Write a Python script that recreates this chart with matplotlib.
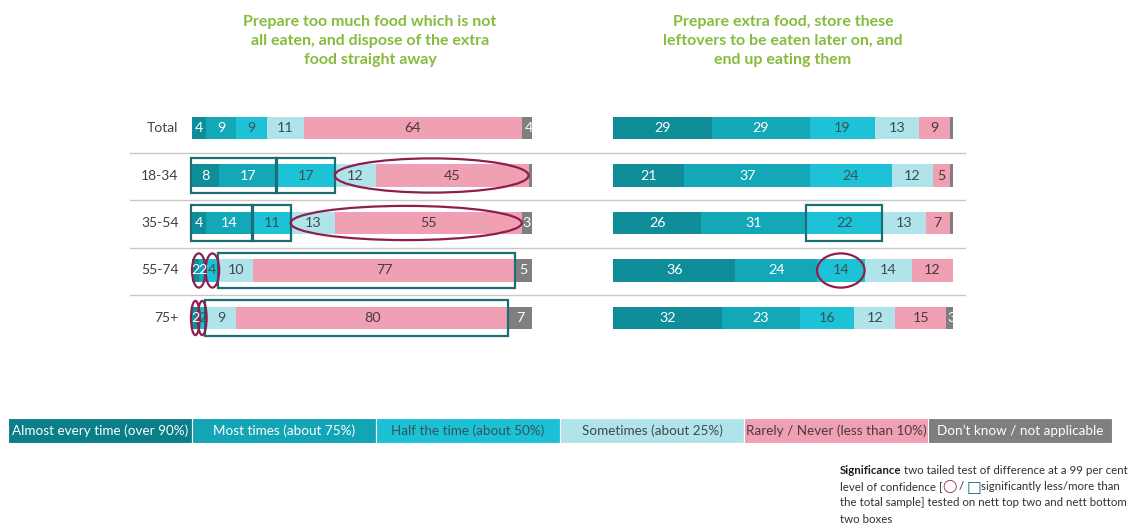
import numpy as np
import matplotlib
matplotlib.use('Agg')
import matplotlib.pyplot as plt
from matplotlib.patches import Rectangle, Ellipse
from matplotlib.lines import Line2D

plt.rcParams['font.family'] = ['Lato', 'DejaVu Sans']

W, H = 1139, 525

rows = ['Total', '18-34', '35-54', '55-74', '75+']
categories = ['Almost every time (over 90%)', 'Most times (about 75%)',
              'Half the time (about 50%)', 'Sometimes (about 25%)',
              'Rarely / Never (less than 10%)', 'Don\u2019t know / not applicable']
colors = ['#0F8E9A', '#13A8B8', '#1DC2D6', '#B1E4EA', '#EFA0B2', '#7F7F7F']
text_colors = ['white', 'white', '#35525A', '#404A4C', '#4A3A40', 'white']
legend_colors = ['#0A7E89', '#13A5B5', '#1DC1D5', '#B1E4EA', '#EFA0B2', '#7F7F7F']

titles = ['Prepare too much food which is not\nall eaten, and dispose of the extra\nfood straight away',
          'Prepare extra food, store these\nleftovers to be eaten later on, and\nend up eating them']

# left chart: dispose of extra food
left_almost = [4, 8, 4, 2, 2]
left_most = [9, 17, 14, 2, 0]
left_half = [9, 17, 11, 4, 2]
left_some = [11, 12, 13, 10, 9]
left_rarely = [64, 45, 55, 77, 80]
left_dk = [4, 1, 3, 5, 7]

# right chart: store leftovers and eat them
right_almost = [29, 21, 26, 36, 32]
right_most = [29, 37, 31, 24, 23]
right_half = [19, 24, 22, 14, 16]
right_some = [13, 12, 13, 14, 12]
right_rarely = [9, 5, 7, 12, 15]
right_dk = [1, 1, 1, 0.6, 3]

# significance marks: (row, first segment, last segment + 1)
left_boxes = [(1, 0, 2), (1, 2, 3), (2, 0, 2), (2, 2, 3), (3, 3, 5), (4, 3, 5)]
left_ellipses = [(1, 3, 5), (2, 3, 5), (3, 0, 2), (3, 2, 3), (4, 0, 2), (4, 2, 3)]
right_boxes = [(2, 2, 3)]
right_ellipses = [(3, 2, 3)]

box_color = '#1C6D76'
ell_color = '#8E1F4C'
green = '#86BC3C'


def fig_rect(x, y, w, h):
    return [x / W, 1 - (y + h) / H, w / W, h / H]


fig = plt.figure(figsize=(W / 100, H / 100), dpi=100)

# row separators run across both charts
for yy in [152.5, 200, 247.5, 295]:
    fig.add_artist(Line2D([130 / W, 965 / W], [1 - yy / H, 1 - yy / H],
                          transform=fig.transFigure, color='#C8C8C8', lw=1))


def draw_chart(ax, series, boxes, ellipses, title):
    data = np.array(series, dtype=float)
    y = np.arange(len(rows))
    starts = np.zeros(len(rows))
    for k in range(len(categories)):
        ax.barh(y, data[k], left=starts, height=0.48, color=colors[k], lw=0)
        for i in range(len(rows)):
            v = data[k][i]
            if v >= 2:
                ax.text(starts[i] + v / 2, i, '%d' % v, ha='center', va='center',
                        fontsize=10.3, color=text_colors[k])
        starts = starts + data[k]
    cum = np.vstack([np.zeros(len(rows)), np.cumsum(data, axis=0)])
    for r, a, b in boxes:
        x0, x1 = cum[a][r], cum[b][r]
        ax.add_patch(Rectangle((x0 - 0.3, r - 0.37), x1 - x0 + 0.3, 0.74,
                               fill=False, ec=box_color, lw=1.6, clip_on=False))
    for r, a, b in ellipses:
        x0, x1 = cum[a][r], cum[b][r]
        w = max(x1 - x0, 2.6)
        ax.add_patch(Ellipse(((x0 + x1) / 2, r), w, 0.72,
                             fill=False, ec=ell_color, lw=1.6, clip_on=False))
    ax.set_xlim(0, 100)
    ax.set_ylim(len(rows) - 0.5, -0.5)
    ax.axis('off')
    ax.set_title(title, color=green, fontsize=11.5, fontweight='bold',
                 linespacing=1.45, pad=29)


axl = fig.add_axes(fig_rect(192, 104.25, 340, 237.5))
draw_chart(axl, [left_almost, left_most, left_half, left_some, left_rarely, left_dk],
           left_boxes, left_ellipses, titles[0])
axr = fig.add_axes(fig_rect(613, 104.25, 340, 237.5))
draw_chart(axr, [right_almost, right_most, right_half, right_some, right_rarely, right_dk],
           right_boxes, right_ellipses, titles[1])
axl.title.set_x((370 - 192) / 340)
axr.title.set_x((783 - 613) / 340)

for i, r in enumerate(rows):
    axl.text(-4, i, r, ha='right', va='center', fontsize=10, color='#404040')

# legend strip
axleg = fig.add_axes(fig_rect(8, 418, 1104, 25))
axleg.barh(0, [1] * len(categories), left=np.arange(len(categories)), height=1,
           color=legend_colors, edgecolor='white', lw=0.8)
for k, c in enumerate(categories):
    axleg.text(k + 0.5, 0, c, ha='center', va='center', fontsize=9.7,
               color=text_colors[k])
axleg.set_xlim(0, len(categories))
axleg.set_ylim(-0.5, 0.5)
axleg.axis('off')

# significance note
fs = 8.3
t = fig.text(840 / W, 1 - 470 / H, 'Significance', fontsize=fs, fontweight='bold',
             color='#202020', va='center')
fig.add_artist(plt.Annotation('two tailed test of difference at a 99 per cent',
                              xy=(1, 0.5), xycoords=t, xytext=(2, 0),
                              textcoords='offset points', va='center', fontsize=fs,
                              color='#303030'))
t2 = fig.text(840 / W, 1 - 486.5 / H, 'level of confidence [', fontsize=fs,
              color='#303030', va='center')
t3 = fig.add_artist(plt.Annotation('\u25ef', xy=(1, 0.5), xycoords=t2, va='center',
                                   fontsize=fs + 1, color=ell_color,
                                   family=['DejaVu Sans']))
t4 = fig.add_artist(plt.Annotation('/', xy=(1, 0.5), xycoords=t3, xytext=(1.5, 0),
                                   textcoords='offset points', va='center',
                                   fontsize=fs, color='#303030'))
t5 = fig.add_artist(plt.Annotation('\u25a1', xy=(1, 0.5), xycoords=t4, xytext=(1.5, 0),
                                   textcoords='offset points', va='center',
                                   fontsize=fs + 3, color=box_color,
                                   family=['DejaVu Sans']))
fig.add_artist(plt.Annotation('significantly less/more than', xy=(1, 0.5), xycoords=t5,
                              va='center', fontsize=fs, color='#303030'))
fig.text(840 / W, 1 - 503 / H, 'the total sample] tested on nett top two and nett bottom',
         fontsize=fs, color='#303030', va='center')
fig.text(840 / W, 1 - 519.5 / H, 'two boxes', fontsize=fs, color='#303030', va='center')

plt.savefig('out.png', dpi=100, facecolor='white')
